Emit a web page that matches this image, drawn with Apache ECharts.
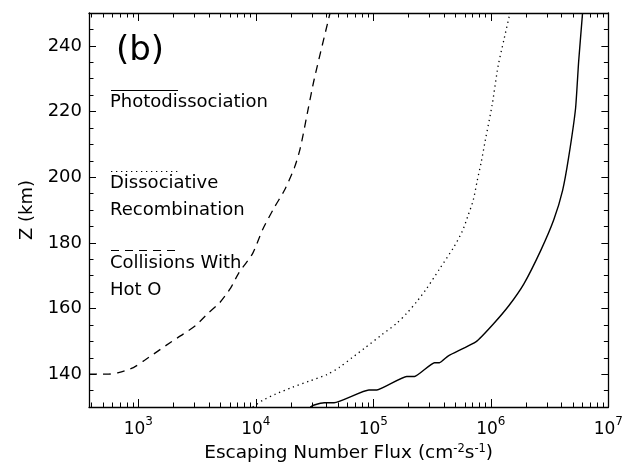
<!DOCTYPE html>
<html>
<head>
<meta charset="utf-8">
<script src="https://cdn.jsdelivr.net/npm/echarts@6/dist/echarts.min.js"></script>
<style>
  html, body { margin: 0; padding: 0; background: #fff; }
  #main { width: 626px; height: 468px; }
</style>
</head>
<body>
<div id="main"></div>
<script>
// altitude (km) vs escaping flux (cm^-2 s^-1)
var photoFlux = [29000, 31400, 38100, 46300, 91600, 107000, 192000, 224000, 331000, 365000, 435000, 750000, 1045000, 1426000, 1910000, 2660000, 3430000, 4080000, 4590000, 5260000, 5580000, 6030000];
var photoAlt  = [130, 130.6, 131.3, 131.3, 135.2, 135.2, 139.3, 139.3, 143.5, 143.5, 145.6, 149.9, 155.2, 160.9, 167.5, 177.7, 187, 196, 206, 221, 235, 250];

var drFlux = [9400, 11400, 14690, 20460, 28500, 40400, 51000, 65800, 84700, 118000, 158000, 192000, 233000, 283000, 365000, 480000, 571000, 642000, 708000, 766000, 827000, 894000, 1025000, 1152000, 1294000, 1455000];
var drAlt  = [130, 132, 133.9, 136, 137.9, 139.9, 142, 145, 148, 152, 155.5, 158.5, 162, 166, 172, 178.5, 183.5, 188.5, 193, 199, 204.5, 211, 222, 233.8, 242, 250];

var hotFlux = [380, 557, 678, 907, 1146, 1476, 1900, 2404, 3093, 3908, 4932, 6110, 7147, 9397, 11400, 14420, 17500, 21280, 23900, 27900, 31400, 42800];
var hotAlt  = [140, 140, 140.5, 142, 144.4, 147.1, 149.8, 152.2, 154.9, 158.5, 161.8, 166.3, 170.8, 176.8, 184, 190.9, 196, 202.9, 208.9, 220.9, 229.9, 250];

var xMajor = [1e3, 1e4, 1e5, 1e6, 1e7];
var xMinor = [400, 500, 600, 700, 800, 900,
  2e3, 3e3, 4e3, 5e3, 6e3, 7e3, 8e3, 9e3,
  2e4, 3e4, 4e4, 5e4, 6e4, 7e4, 8e4, 9e4,
  2e5, 3e5, 4e5, 5e5, 6e5, 7e5, 8e5, 9e5,
  2e6, 3e6, 4e6, 5e6, 6e6, 7e6, 8e6, 9e6];
var yMajor = [140, 160, 180, 200, 220, 240];

function pairs(xs, ys) {
  return xs.map(function (x, i) { return [x, ys[i]]; });
}

var FONT = 'DejaVu Sans';
var chart = echarts.init(document.getElementById('main'));

function xAxisDef(pos, ticks, len, showLine, showLabel) {
  return {
    type: 'log', logBase: 10, min: 380, max: 1e7, position: pos,
    axisLine: { show: showLine, onZero: false, lineStyle: { color: '#000', width: 1.3 } },
    axisTick: { show: true, inside: true, length: len, customValues: ticks,
      lineStyle: { color: '#000', width: 1 } },
    axisLabel: { show: showLabel, customValues: ticks },
    splitLine: { show: false }, minorTick: { show: false }
  };
}
function yAxisDef(pos, len, showLine, major) {
  var a = {
    type: 'value', min: 130, max: 250, position: pos,
    axisLine: { show: showLine, onZero: false, lineStyle: { color: '#000', width: 1.3 } },
    axisTick: { show: true, inside: true, length: len, lineStyle: { color: '#000', width: 1 } },
    axisLabel: { show: false },
    splitLine: { show: false }
  };
  if (major) {
    a.axisTick.customValues = yMajor;
    a.axisLabel.customValues = yMajor;
  } else {
    a.interval = 5;
  }
  return a;
}

var xBottom = xAxisDef('bottom', xMajor, 8, true, true);
xBottom.axisLabel = {
  show: true, customValues: xMajor, margin: 9,
  formatter: function (v) {
    return '{b|10}{s|' + Math.round(Math.log10(v)) + '}';
  },
  rich: {
    b: { fontFamily: FONT, fontSize: 17, color: '#000', verticalAlign: 'bottom', lineHeight: 22 },
    s: { fontFamily: FONT, fontSize: 12, color: '#000', verticalAlign: 'top', lineHeight: 12 }
  }
};
xBottom.name = '{n|Escaping Number Flux (cm}{s|-2}{n|s}{s|-1}{n|)}';
xBottom.nameLocation = 'middle';
xBottom.nameGap = 36;
xBottom.nameTextStyle = {
  rich: {
    n: { fontFamily: FONT, fontSize: 18.5, color: '#000', verticalAlign: 'bottom', lineHeight: 20 },
    s: { fontFamily: FONT, fontSize: 11.5, color: '#000', verticalAlign: 'top', lineHeight: 10 }
  }
};

var yLeft = yAxisDef('left', 7, true, true);
yLeft.axisLabel = { show: true, customValues: yMajor, margin: 7,
  fontFamily: FONT, fontSize: 18, color: '#000' };
yLeft.name = 'Z (km)';
yLeft.nameLocation = 'middle';
yLeft.nameGap = 50;
yLeft.nameTextStyle = { fontFamily: FONT, fontSize: 18, color: '#000' };

var option = {
  animation: false,
  backgroundColor: '#fff',
  grid: { left: 89, right: 13, top: 13, bottom: 52, containLabel: false },
  xAxis: [
    xBottom,
    xAxisDef('bottom', xMinor, 4.5, false, false),
    xAxisDef('top', xMajor, 8, true, false),
    xAxisDef('top', xMinor, 4.5, false, false)
  ],
  yAxis: [
    yLeft,
    yAxisDef('left', 4.5, false, false),
    yAxisDef('right', 7, true, true),
    yAxisDef('right', 4.5, false, false)
  ],
  series: [
    {
      name: 'Photodissociation', type: 'line', showSymbol: false, smooth: 0.15,
      data: pairs(photoFlux, photoAlt),
      lineStyle: { color: '#000', width: 1.4, type: 'solid' }
    },
    {
      name: 'Dissociative Recombination', type: 'line', showSymbol: false, smooth: 0.25,
      data: pairs(drFlux, drAlt),
      lineStyle: { color: '#000', width: 1.3, type: [1.3, 3.7] }
    },
    {
      name: 'Collisions With Hot O', type: 'line', showSymbol: false, smooth: 0.25,
      data: pairs(hotFlux, hotAlt),
      lineStyle: { color: '#000', width: 1.3, type: [8, 6] }
    }
  ],
  graphic: [
    { type: 'text', left: 116, top: 34,
      style: { text: '(b)', fontFamily: FONT, fontSize: 34, fill: '#000' } },
    { type: 'line', shape: { x1: 111, y1: 90.5, x2: 178, y2: 90.5 },
      style: { stroke: '#000', lineWidth: 1.2 } },
    { type: 'text', left: 110, top: 93,
      style: { text: 'Photodissociation', fontFamily: FONT, fontSize: 18, fill: '#000' } },
    { type: 'line', shape: { x1: 111, y1: 171.5, x2: 178, y2: 171.5 },
      style: { stroke: '#000', lineWidth: 1.2, lineDash: [1.3, 3.7] } },
    { type: 'text', left: 110, top: 174,
      style: { text: 'Dissociative', fontFamily: FONT, fontSize: 18, fill: '#000' } },
    { type: 'text', left: 110, top: 201,
      style: { text: 'Recombination', fontFamily: FONT, fontSize: 18, fill: '#000' } },
    { type: 'line', shape: { x1: 111, y1: 250.5, x2: 178, y2: 250.5 },
      style: { stroke: '#000', lineWidth: 1.2, lineDash: [8, 6] } },
    { type: 'text', left: 110, top: 254,
      style: { text: 'Collisions With', fontFamily: FONT, fontSize: 18, fill: '#000' } },
    { type: 'text', left: 110, top: 281,
      style: { text: 'Hot O', fontFamily: FONT, fontSize: 18, fill: '#000' } }
  ]
};
chart.setOption(option);
</script>
</body>
</html>
